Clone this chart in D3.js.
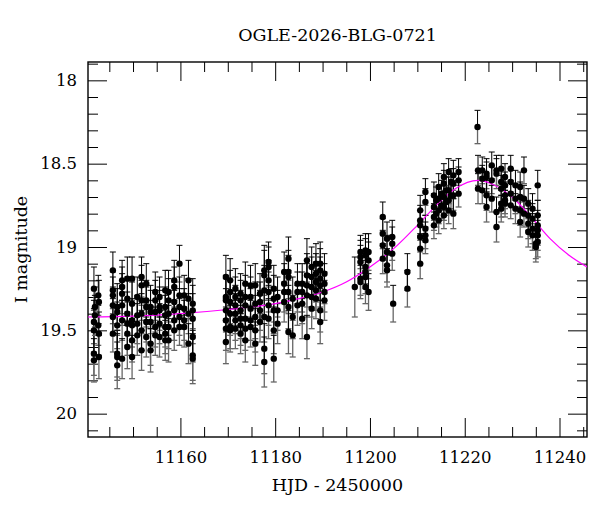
<!DOCTYPE html>
<html>
<head>
<meta charset="utf-8">
<script src="https://cdn.jsdelivr.net/npm/d3@7"></script>
<style>
  body { margin: 0; background: #fff; }
  svg text { font-family: "DejaVu Serif", serif; fill: #000; }
</style>
</head>
<body>
<div id="chart"></div>
<script>
// each night: [HJD - 2450000, error, I magnitudes measured that night...]
var season1 = [
  [11141.75, 0.13, 19.25, 19.45, 19.50, 19.64, 19.68],
  [11141.96, 0.12, 19.36, 19.41],
  [11142.67, 0.12, 19.29, 19.47],
  [11142.80, 0.13, 19.33, 19.52, 19.66],
  [11145.75, 0.11, 19.14, 19.26, 19.29, 19.35, 19.42, 19.52],
  [11146.67, 0.14, 19.36, 19.39, 19.47, 19.64, 19.71, 19.66],
  [11147.70, 0.12, 19.20, 19.24, 19.28, 19.35, 19.44, 19.67],
  [11148.80, 0.13, 19.19, 19.31, 19.40, 19.46, 19.52, 19.60],
  [11149.80, 0.13, 19.19, 19.34, 19.44, 19.47, 19.56, 19.66],
  [11150.90, 0.12, 19.30, 19.41, 19.46, 19.53],
  [11151.80, 0.12, 19.18, 19.23, 19.32, 19.40, 19.50, 19.62],
  [11152.80, 0.12, 19.22, 19.32, 19.36, 19.45, 19.54],
  [11153.70, 0.13, 19.36, 19.39, 19.45, 19.58, 19.62],
  [11154.70, 0.12, 19.27, 19.32, 19.39, 19.48, 19.53],
  [11155.60, 0.12, 19.30, 19.36, 19.38, 19.46, 19.54],
  [11156.80, 0.12, 19.26, 19.36, 19.41, 19.48, 19.52, 19.56],
  [11157.50, 0.13, 19.27, 19.32, 19.40, 19.48, 19.56],
  [11158.70, 0.12, 19.20, 19.24, 19.33, 19.38, 19.44, 19.50],
  [11159.80, 0.11, 19.10, 19.29, 19.36, 19.42, 19.48],
  [11160.80, 0.12, 19.29, 19.37, 19.44, 19.48],
  [11161.70, 0.12, 19.20, 19.31, 19.40, 19.58],
  [11162.60, 0.15, 19.34, 19.38, 19.43, 19.54, 19.65, 19.67]
];

var season2 = [
  [11169.60, 0.13, 19.18, 19.30, 19.32, 19.38, 19.44, 19.49, 19.57],
  [11170.50, 0.13, 19.20, 19.27, 19.33, 19.40, 19.48, 19.50],
  [11171.60, 0.12, 19.25, 19.30, 19.35, 19.40, 19.44, 19.49],
  [11172.70, 0.12, 19.28, 19.32, 19.38, 19.43, 19.47, 19.52],
  [11173.70, 0.13, 19.22, 19.30, 19.35, 19.43, 19.49, 19.56],
  [11174.80, 0.12, 19.23, 19.30, 19.37, 19.44, 19.48],
  [11175.80, 0.13, 19.23, 19.34, 19.42, 19.50, 19.58],
  [11176.80, 0.12, 19.28, 19.33, 19.38, 19.45],
  [11177.70, 0.15, 19.14, 19.17, 19.26, 19.42, 19.61, 19.69],
  [11178.60, 0.12, 19.09, 19.12, 19.20, 19.27, 19.35, 19.43],
  [11179.70, 0.14, 19.25, 19.31, 19.38, 19.50, 19.67],
  [11180.50, 0.12, 19.30, 19.38, 19.46],
  [11181.90, 0.12, 19.15, 19.22, 19.27, 19.33],
  [11182.80, 0.13, 19.07, 19.15, 19.18, 19.27, 19.36, 19.51],
  [11183.70, 0.13, 19.31, 19.42, 19.53],
  [11184.70, 0.12, 19.22, 19.27, 19.35],
  [11185.70, 0.12, 19.22, 19.27, 19.34, 19.43],
  [11186.70, 0.13, 19.08, 19.17, 19.23, 19.29, 19.54],
  [11187.70, 0.12, 19.12, 19.18, 19.24, 19.30, 19.37],
  [11188.60, 0.12, 19.10, 19.16, 19.21, 19.26, 19.31],
  [11189.50, 0.13, 19.10, 19.14, 19.19, 19.23, 19.38, 19.45],
  [11190.40, 0.12, 19.16, 19.22, 19.27, 19.32]
];

var season3 = [
  [11196.80, 0.18, 19.24],
  [11198.00, 0.10, 19.03, 19.06, 19.09, 19.19, 19.21],
  [11199.05, 0.10, 19.02, 19.05, 19.12, 19.15, 19.18, 19.24],
  [11199.70, 0.11, 19.03, 19.08, 19.27],
  [11202.70, 0.09, 18.82, 18.92, 18.99, 19.07],
  [11203.60, 0.10, 18.95, 19.03, 19.11, 19.14],
  [11204.70, 0.10, 18.94, 18.98, 19.04],
  [11204.90, 0.11, 19.34],
  [11207.90, 0.11, 19.15, 19.25]
];

var season4 = [
  [11210.60, 0.09, 18.78, 18.84, 18.87, 18.94, 19.01, 19.10],
  [11211.70, 0.08, 18.67, 18.73, 18.89, 18.93, 18.96],
  [11213.50, 0.08, 18.69, 18.76, 18.82, 18.87],
  [11214.00, 0.08, 18.72, 18.80],
  [11214.50, 0.08, 18.64, 18.71, 18.78, 18.84],
  [11215.10, 0.08, 18.68, 18.75],
  [11215.60, 0.08, 18.58, 18.62, 18.70, 18.76, 18.81],
  [11216.10, 0.08, 18.66, 18.73],
  [11216.60, 0.08, 18.55, 18.66, 18.72, 18.78],
  [11217.10, 0.08, 18.61, 18.69],
  [11217.60, 0.09, 18.57, 18.62, 18.69, 18.80],
  [11218.70, 0.08, 18.55, 18.60, 18.68]
];

var season5 = [
  [11222.70, 0.10, 18.28],
  [11222.80, 0.09, 18.54, 18.65],
  [11223.70, 0.08, 18.54, 18.59, 18.66],
  [11224.60, 0.09, 18.56, 18.58, 18.69, 18.76],
  [11225.70, 0.08, 18.51, 18.60, 18.71],
  [11226.70, 0.09, 18.54, 18.56, 18.79, 18.88],
  [11227.70, 0.08, 18.53, 18.61, 18.65, 18.74, 18.77],
  [11228.50, 0.08, 18.58, 18.63, 18.69, 18.72, 18.74],
  [11229.70, 0.08, 18.53, 18.61, 18.68, 18.75],
  [11230.70, 0.09, 18.63, 18.71, 18.77],
  [11231.70, 0.09, 18.64, 18.70, 18.78, 18.85],
  [11232.50, 0.08, 18.54, 18.71, 18.80],
  [11233.40, 0.09, 18.74, 18.81, 18.86, 18.91],
  [11234.30, 0.09, 18.77, 18.83, 18.89, 18.93],
  [11235.00, 0.09, 18.98, 19.00],
  [11235.40, 0.09, 18.63, 18.81, 18.87, 18.90, 18.93, 18.97]
];

// fitted model
var modelHJD = [11140.5, 11150, 11160, 11170, 11180, 11185, 11190, 11195, 11200, 11205,
  11210, 11214, 11218, 11222.8, 11226, 11230, 11234, 11238, 11242, 11245.8];
var modelMag = [19.42, 19.415, 19.40, 19.375, 19.34, 19.31, 19.27, 19.21, 19.12, 19.01,
  18.87, 18.75, 18.65, 18.60, 18.625, 18.70, 18.82, 18.95, 19.05, 19.12];

var xMajor = [11160, 11180, 11200, 11220, 11240];
var xMinor = [11145, 11150, 11155, 11165, 11170, 11175, 11185, 11190, 11195,
  11205, 11210, 11215, 11225, 11230, 11235, 11245];
var yMajor = [18, 18.5, 19, 19.5, 20];
var yLabels = ["18", "18.5", "19", "19.5", "20"];
var yMinor = [17.9, 18.1, 18.2, 18.3, 18.4, 18.6, 18.7, 18.8, 18.9,
  19.1, 19.2, 19.3, 19.4, 19.6, 19.7, 19.8, 19.9, 20.1];

var width = 600, height = 512;
var margin = {top: 62, right: 13, bottom: 75, left: 88};

var svg = d3.select("#chart").append("svg")
  .attr("width", width)
  .attr("height", height);

var x = d3.scaleLinear().domain([11140.5, 11245.8]).range([margin.left, width - margin.right]);
var y = d3.scaleLinear().domain([17.89, 20.14]).range([margin.top, height - margin.bottom]);

var points = [].concat(season1, season2, season3, season4, season5)
  .flatMap(function(n) {
    return n.slice(2).map(function(m) { return {t: n[0], err: n[1], mag: m}; });
  });

// axes, ticks pointing inwards on all four sides
function axisGroup(axis, tx, ty) {
  var g = svg.append("g")
    .attr("transform", "translate(" + tx + "," + ty + ")")
    .call(axis);
  g.select(".domain").remove();
  g.selectAll("line").attr("stroke", "#000");
  g.selectAll("text").attr("font-family", "DejaVu Serif, serif").attr("font-size", 16.5);
  return g;
}

var bottomY = height - margin.bottom, rightX = width - margin.right;

axisGroup(d3.axisBottom(x).tickValues(xMajor).tickSize(-19).tickPadding(14).tickFormat(d3.format("d")), 0, bottomY);
axisGroup(d3.axisBottom(x).tickValues(xMinor).tickSize(-10).tickFormat(""), 0, bottomY);
axisGroup(d3.axisTop(x).tickValues(xMajor).tickSize(-19).tickFormat(""), 0, margin.top);
axisGroup(d3.axisTop(x).tickValues(xMinor).tickSize(-10).tickFormat(""), 0, margin.top);
axisGroup(d3.axisLeft(y).tickValues(yMajor).tickSize(-19).tickPadding(11)
  .tickFormat(function(d, i) { return yLabels[i]; }), margin.left, 0);
axisGroup(d3.axisLeft(y).tickValues(yMinor).tickSize(-10).tickFormat(""), margin.left, 0);
axisGroup(d3.axisRight(y).tickValues(yMajor).tickSize(-19).tickFormat(""), rightX, 0);
axisGroup(d3.axisRight(y).tickValues(yMinor).tickSize(-10).tickFormat(""), rightX, 0);

svg.append("rect")
  .attr("x", margin.left)
  .attr("y", margin.top)
  .attr("width", rightX - margin.left)
  .attr("height", bottomY - margin.top)
  .attr("fill", "none")
  .attr("stroke", "#000")
  .attr("stroke-width", 1.4);

svg.append("clipPath").attr("id", "plot-clip")
  .append("rect")
  .attr("x", margin.left).attr("y", margin.top)
  .attr("width", rightX - margin.left).attr("height", bottomY - margin.top);

var plot = svg.append("g").attr("clip-path", "url(#plot-clip)");

// error bars: upper half black, lower half grey like the original
var bars = plot.append("g").selectAll("g")
  .data(points)
  .enter().append("g");

bars.append("line")
  .attr("x1", function(d) { return x(d.t); })
  .attr("x2", function(d) { return x(d.t); })
  .attr("y1", function(d) { return y(d.mag - d.err); })
  .attr("y2", function(d) { return y(d.mag); })
  .attr("stroke", "#000");
bars.append("line")
  .attr("x1", function(d) { return x(d.t) - 3; })
  .attr("x2", function(d) { return x(d.t) + 3; })
  .attr("y1", function(d) { return y(d.mag - d.err); })
  .attr("y2", function(d) { return y(d.mag - d.err); })
  .attr("stroke", "#000");
bars.append("line")
  .attr("x1", function(d) { return x(d.t); })
  .attr("x2", function(d) { return x(d.t); })
  .attr("y1", function(d) { return y(d.mag); })
  .attr("y2", function(d) { return y(d.mag + d.err); })
  .attr("stroke", "#666")
  .attr("stroke-width", 1.3);
bars.append("line")
  .attr("x1", function(d) { return x(d.t) - 3; })
  .attr("x2", function(d) { return x(d.t) + 3; })
  .attr("y1", function(d) { return y(d.mag + d.err); })
  .attr("y2", function(d) { return y(d.mag + d.err); })
  .attr("stroke", "#666")
  .attr("stroke-width", 1.3);

var model = modelHJD.map(function(t, i) { return [t, modelMag[i]]; });

plot.append("path")
  .datum(model)
  .attr("d", d3.line()
    .x(function(d) { return x(d[0]); })
    .y(function(d) { return y(d[1]); })
    .curve(d3.curveMonotoneX))
  .attr("fill", "none")
  .attr("stroke", "#ff00ff")
  .attr("stroke-width", 1.2);

plot.append("g").selectAll("circle")
  .data(points)
  .enter().append("circle")
  .attr("cx", function(d) { return x(d.t); })
  .attr("cy", function(d) { return y(d.mag); })
  .attr("r", 3.2)
  .attr("fill", "#000");

var midX = (margin.left + rightX) / 2;

svg.append("text")
  .attr("x", midX)
  .attr("y", 41)
  .attr("text-anchor", "middle")
  .attr("font-size", 17.5)
  .text("OGLE-2026-BLG-0721");

svg.append("text")
  .attr("x", midX)
  .attr("y", 491)
  .attr("text-anchor", "middle")
  .attr("font-size", 17.5)
  .text("HJD - 2450000");

svg.append("text")
  .attr("transform", "translate(27," + ((margin.top + bottomY) / 2) + ") rotate(-90)")
  .attr("text-anchor", "middle")
  .attr("font-size", 17.5)
  .text("I magnitude");
</script>
</body>
</html>
